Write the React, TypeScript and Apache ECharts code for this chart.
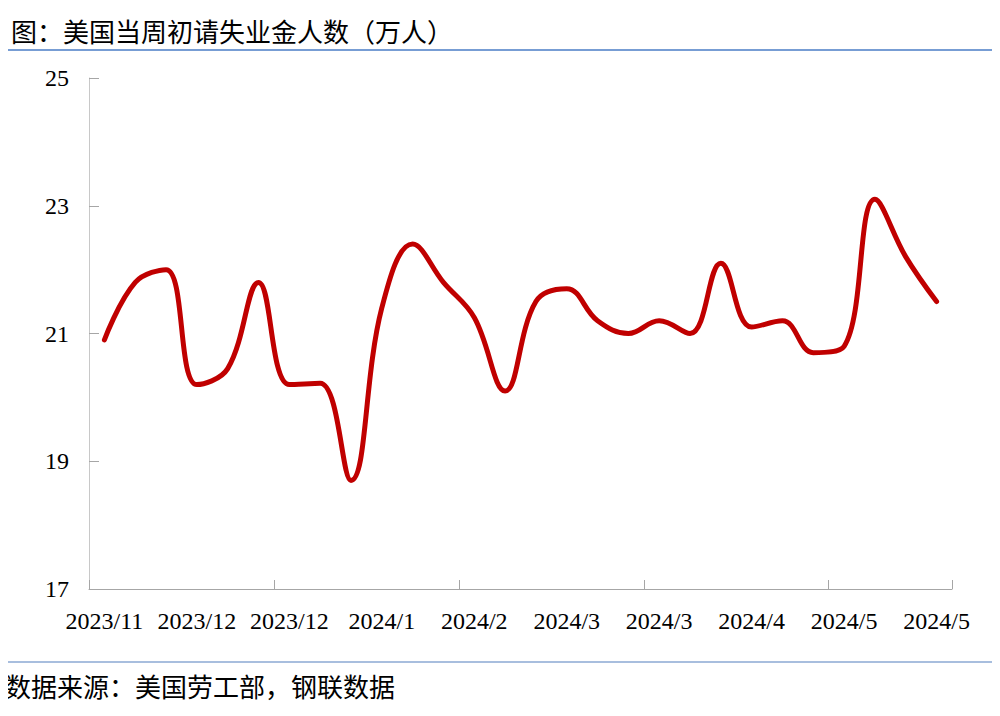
import React, { useEffect, useRef } from "react";
import * as echarts from "echarts";

const titleText = "图：美国当周初请失业金人数（万人）";
const sourceText = "数据来源：美国劳工部，钢联数据";

// weekly categories (labelled by month), week ending 2023-11-18 … 2024-05-25
const categories = [
  "2023/11", "2023/11",
  "2023/12", "2023/12", "2023/12", "2023/12", "2023/12",
  "2024/1", "2024/1", "2024/1", "2024/1",
  "2024/2", "2024/2", "2024/2", "2024/2",
  "2024/3", "2024/3", "2024/3", "2024/3", "2024/3",
  "2024/4", "2024/4", "2024/4", "2024/4",
  "2024/5", "2024/5", "2024/5", "2024/5",
];

// initial jobless claims, 10k persons
const claims = [
  20.9, 21.8, 22.0, 20.2, 20.45, 21.8, 20.2, 20.22, 18.7, 21.4,
  22.4, 21.8, 21.25, 20.1, 21.5, 21.7, 21.2, 21.0, 21.2, 21.0,
  22.1, 21.1, 21.2, 20.7, 20.8, 23.1, 22.2, 21.5,
];

const yMin = 17;
const yMax = 25;
const yStep = 2;

const serif = "'Liberation Serif', 'Times New Roman', serif";
const cjk = "'Noto Sans CJK SC', sans-serif";

export default function App() {
  const ref = useRef<HTMLDivElement>(null);

  useEffect(() => {
    if (!ref.current) return;
    const chart = echarts.init(ref.current, undefined, { renderer: "svg" });
    chart.setOption({
      animation: false,
      backgroundColor: "#ffffff",
      grid: { left: 89, right: 48, top: 78, bottom: 127, containLabel: false },
      title: {
        text: titleText,
        left: 6,
        top: 12,
        textStyle: { fontFamily: cjk, fontSize: 26, fontWeight: "normal", color: "#000000" },
      },
      graphic: [
        {
          type: "line",
          shape: { x1: 0, y1: 50, x2: 1000, y2: 50 },
          style: { stroke: "#4A7CC6", lineWidth: 1.5 },
        },
        {
          type: "line",
          shape: { x1: 0, y1: 662, x2: 1000, y2: 662 },
          style: { stroke: "#A8BEDE", lineWidth: 2 },
        },
        {
          type: "text",
          left: 5,
          top: 672,
          style: { text: sourceText, font: `normal 26px ${cjk}`, fill: "#000000" },
        },
      ],
      xAxis: {
        type: "category",
        data: categories,
        boundaryGap: true,
        axisLine: { lineStyle: { color: "#A6A6A6", width: 1 } },
        axisTick: {
          show: true,
          inside: true,
          interval: (index: number) => index % 6 === 0,
          length: 9,
          lineStyle: { color: "#A6A6A6" },
        },
        axisLabel: {
          interval: 2,
          margin: 20,
          color: "#000000",
          fontFamily: serif,
          fontSize: 24,
        },
        splitLine: { show: false },
      },
      yAxis: {
        type: "value",
        min: yMin,
        max: yMax,
        interval: yStep,
        axisLine: { show: true, lineStyle: { color: "#C8C8C8", width: 1 } },
        axisTick: { show: true, inside: true, length: 10, lineStyle: { color: "#A6A6A6" } },
        axisLabel: { margin: 20, color: "#000000", fontFamily: serif, fontSize: 24 },
        splitLine: { show: false },
      },
      series: [
        {
          type: "line",
          data: claims,
          smooth: 0.4,
          symbol: "none",
          lineStyle: { color: "#C00000", width: 5, cap: "round" },
        },
      ],
    });
    return () => chart.dispose();
  }, []);

  return <div ref={ref} style={{ width: 1000, height: 716, margin: -8 }} />;
}
